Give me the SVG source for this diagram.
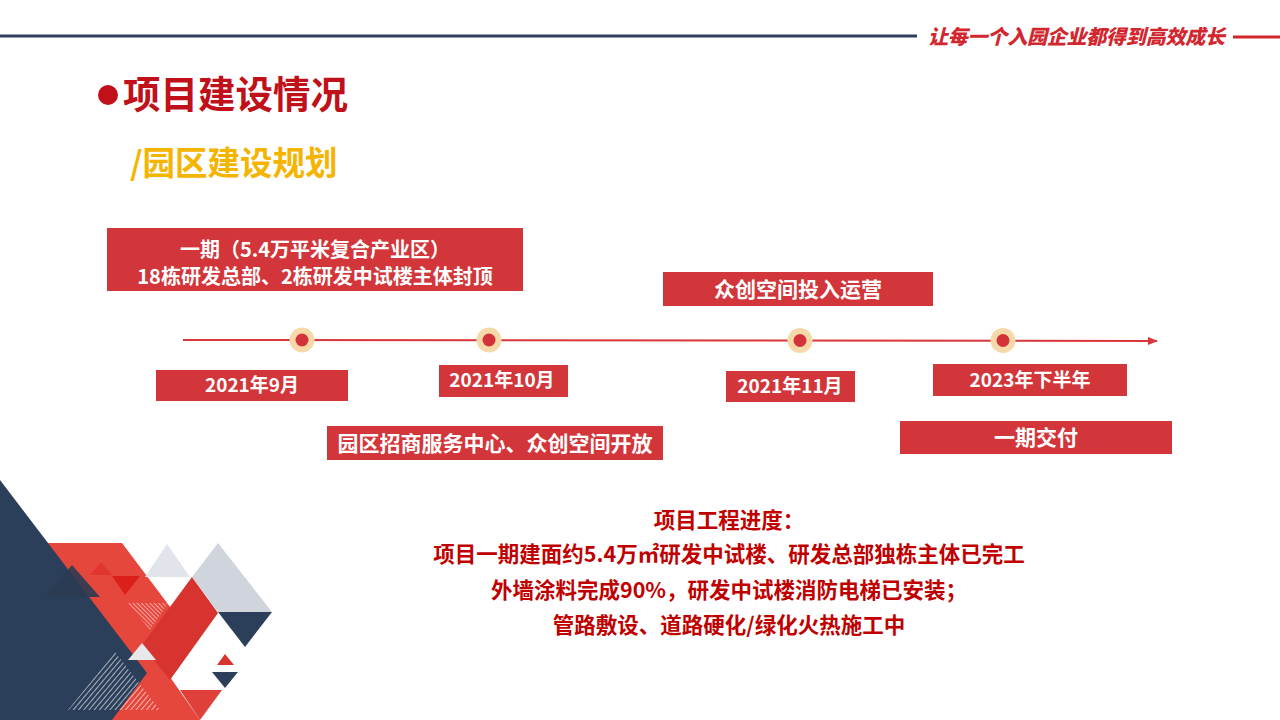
<svg xmlns="http://www.w3.org/2000/svg" width="1280" height="720" viewBox="0 0 1280 720">
<defs>
<style>
.box{fill:#d3363a}
.bt{font-family:"Noto Sans CJK SC","Liberation Sans",sans-serif;font-weight:bold;fill:#ffffff;text-anchor:middle}
.f21{font-size:21px}
.f20{font-size:20px}
.f19{font-size:19px}
.body{font-family:"Noto Sans CJK SC","Liberation Sans",sans-serif;font-weight:bold;fill:#c00000;font-size:21.5px;text-anchor:middle}
.halo{fill:#f6d9a8}
.dot{fill:#d33338}
</style>
<marker id="arr" viewBox="0 0 10 10" refX="9" refY="5" markerWidth="5" markerHeight="5" orient="auto" markerUnits="strokeWidth">
<path d="M0,1 L10,5 L0,9 z" fill="#d8363b"/>
</marker>
<pattern id="hatchA" patternUnits="userSpaceOnUse" width="3" height="3" patternTransform="rotate(-45)">
<line x1="0" y1="0" x2="0" y2="3" stroke="#ffffff" stroke-width="1"/>
</pattern>
<pattern id="hatchB" patternUnits="userSpaceOnUse" width="4" height="4" patternTransform="rotate(40)">
<line x1="0" y1="0" x2="0" y2="4" stroke="#ffffff" stroke-width="1.2"/>
</pattern>
</defs>
<rect width="1280" height="720" fill="#ffffff"/>

<g id="header">
<line x1="0" y1="36" x2="917" y2="36" stroke="#2c3e5a" stroke-width="3"/>
<line x1="1233" y1="37" x2="1280" y2="37" stroke="#d3272f" stroke-width="3"/>
<text x="928" y="44" font-family="Noto Sans CJK SC,Liberation Sans,sans-serif" font-weight="900" font-style="italic" font-size="20" fill="#d3272f" textLength="297">让每一个入园企业都得到高效成长</text>
</g>

<g id="title">
<circle cx="108" cy="95" r="10" fill="#c0101a"/>
<text x="123" y="108" font-family="Noto Sans CJK SC,Liberation Sans,sans-serif" font-weight="bold" font-size="37.5" fill="#c0101a">项目建设情况</text>
<text x="130" y="175" font-family="Noto Sans CJK SC,Liberation Sans,sans-serif" font-weight="bold" font-size="32.5" fill="#f5b400">/园区建设规划</text>
</g>

<g id="decoration">
<polygon points="40,543 122,543 195,640 170,677 200,720 100,720" fill="#e6473d"/>
<polygon points="180,690 222,690 200,720" fill="#e0403a"/>
<polygon points="192,577 218,613 170,680 142,645" fill="#d7342f"/>
<polygon points="101,562 112,575 90,575" fill="#e13530"/>
<polygon points="112,576 140,576 125,595" fill="#dd1f1a"/>
<polygon points="167,544 190,577 145,577" fill="#e1e4ea"/>
<polygon points="150,577 190,577 171,604" fill="#ffffff"/>
<polygon points="128,603 168,603 150,630" fill="url(#hatchA)"/>
<polygon points="218,543 272,612 218,612 192,577" fill="#cfd4dd"/>
<polygon points="218,612 272,612 245,647" fill="#2c3f5a"/>
<polygon points="217,665 234,665 225,654" fill="#d7342f"/>
<polygon points="212,672 238,672 225,688" fill="#2c3f5a"/>
<polygon points="0,480 147,673 112,720 0,720" fill="#2c3f5a"/>
<polygon points="72,565 100,597 45,597" fill="#2a3b52" opacity="0.9"/>
<polygon points="142,643 156,660 128,660" fill="#e6e8ec"/>
<polygon points="115,652 160,710 68,710" fill="url(#hatchB)"/>
</g>

<g id="connectors">
<line x1="183" y1="340" x2="1157" y2="341" stroke="#d8363b" stroke-width="2" marker-end="url(#arr)"/>
</g>

<g id="dot1"><circle class="halo" cx="302" cy="340" r="12.5"/><circle class="dot" cx="302" cy="340" r="6.5"/></g>
<g id="dot2"><circle class="halo" cx="489" cy="340" r="12.5"/><circle class="dot" cx="489" cy="340" r="6.5"/></g>
<g id="dot3"><circle class="halo" cx="800" cy="340.5" r="12.5"/><circle class="dot" cx="800" cy="340.5" r="6.5"/></g>
<g id="dot4"><circle class="halo" cx="1003" cy="340.5" r="12.5"/><circle class="dot" cx="1003" cy="340.5" r="6.5"/></g>

<g id="phase1">
<rect class="box" x="107" y="228" width="416" height="63"/>
<text class="bt f20" x="315" y="257">一期（5.4万平米复合产业区）</text>
<text class="bt f20" x="315" y="284">18栋研发总部、2栋研发中试楼主体封顶</text>
</g>

<g id="zhongchuang">
<rect class="box" x="663" y="272" width="270" height="34"/>
<text class="bt f21" x="798" y="297">众创空间投入运营</text>
</g>

<g id="date1">
<rect class="box" x="156" y="370" width="192" height="31"/>
<text class="bt f19" x="252" y="392">2021年9月</text>
</g>

<g id="date2">
<rect class="box" x="439" y="365" width="129" height="32"/>
<text class="bt f19" x="502" y="387">2021年10月</text>
</g>

<g id="date3">
<rect class="box" x="726" y="371" width="129" height="31"/>
<text class="bt f19" x="790" y="393">2021年11月</text>
</g>

<g id="date4">
<rect class="box" x="933" y="364" width="194" height="32"/>
<text class="bt f19" x="1030" y="387">2023年下半年</text>
</g>

<g id="zhaoshang">
<rect class="box" x="327" y="426" width="336" height="34"/>
<text class="bt f21" x="495" y="451">园区招商服务中心、众创空间开放</text>
</g>

<g id="delivery">
<rect class="box" x="900" y="421" width="272" height="33"/>
<text class="bt f21" x="1036" y="445">一期交付</text>
</g>

<g id="progress">
<text class="body" x="729" y="528">项目工程进度：</text>
<text class="body" x="729" y="562">项目一期建面约5.4万㎡研发中试楼、研发总部独栋主体已完工</text>
<text class="body" x="729" y="598">外墙涂料完成90%，研发中试楼消防电梯已安装；</text>
<text class="body" x="729" y="633">管路敷设、道路硬化/绿化火热施工中</text>
</g>
</svg>
